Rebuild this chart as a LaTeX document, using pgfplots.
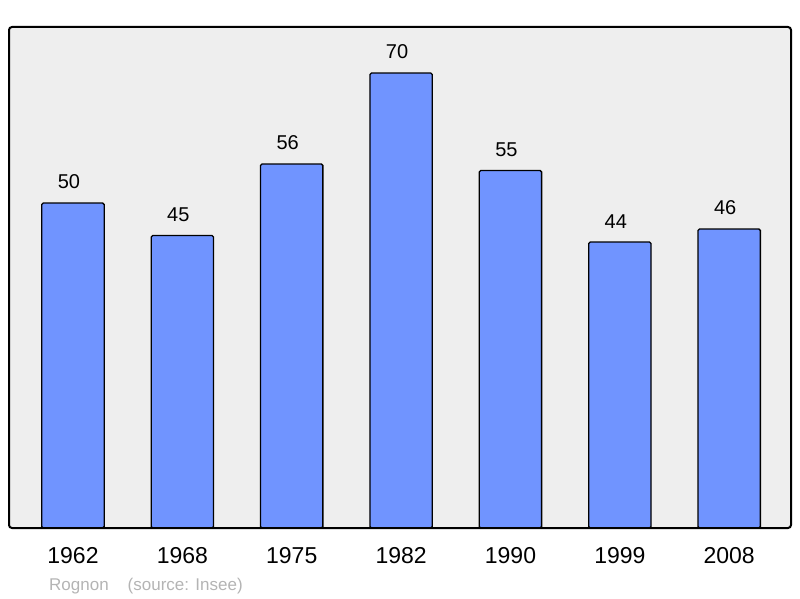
\documentclass[border=0pt]{standalone}
\usepackage{pgfplots}
\pgfplotsset{compat=1.18}
\usepackage{fontspec}
\setmainfont{Liberation Sans}
\definecolor{barblue}{RGB}{112,148,255}
\definecolor{bg}{RGB}{238,238,238}
\definecolor{srcgray}{RGB}{180,180,180}
\begin{document}
\begin{tikzpicture}
\begin{axis}[
  name=ax,
  scale only axis,
  width=782pt, height=501pt,
  xmin=-0.585, xmax=6.565,
  ymin=0, ymax=77.08,
  axis line style={draw=none},
  ytick=\empty,
  xtick={0,1,2,3,4,5,6},
  xticklabels={1962,1968,1975,1982,1990,1999,2008},
  major tick length=0pt,
  xticklabel style={font=\fontsize{23}{27}\selectfont, anchor=center, yshift=-28pt},
  ybar, bar width=0.57,
  /pgf/number format/assume math mode=true,
  nodes near coords,
  every node near coord/.append style={font=\fontsize{20}{24}\selectfont, black, yshift=10pt, xshift=-4pt},
  clip=false,
]
\fill[bg, rounded corners=3pt] (rel axis cs:0,0) rectangle (rel axis cs:1,1);
\addplot[fill=barblue, draw=black, line width=1.3pt, rounded corners=1.5pt] coordinates {(0,50) (1,45) (2,56) (3,70) (4,55) (5,44) (6,46)};
\draw[black, line width=2pt, rounded corners=3pt] (rel axis cs:0,0) rectangle (rel axis cs:1,1);
\end{axis}
\node[anchor=base west, font=\fontsize{17}{20}\selectfont, text=srcgray, inner sep=0pt] at ([xshift=40pt, yshift=-62pt]ax.south west) {Rognon\hspace{19pt}(source: Insee)};
\path[use as bounding box] ([xshift=-9pt, yshift=-70pt]ax.south west) rectangle ([xshift=9pt, yshift=27pt]ax.north east);
\end{tikzpicture}
\end{document}
